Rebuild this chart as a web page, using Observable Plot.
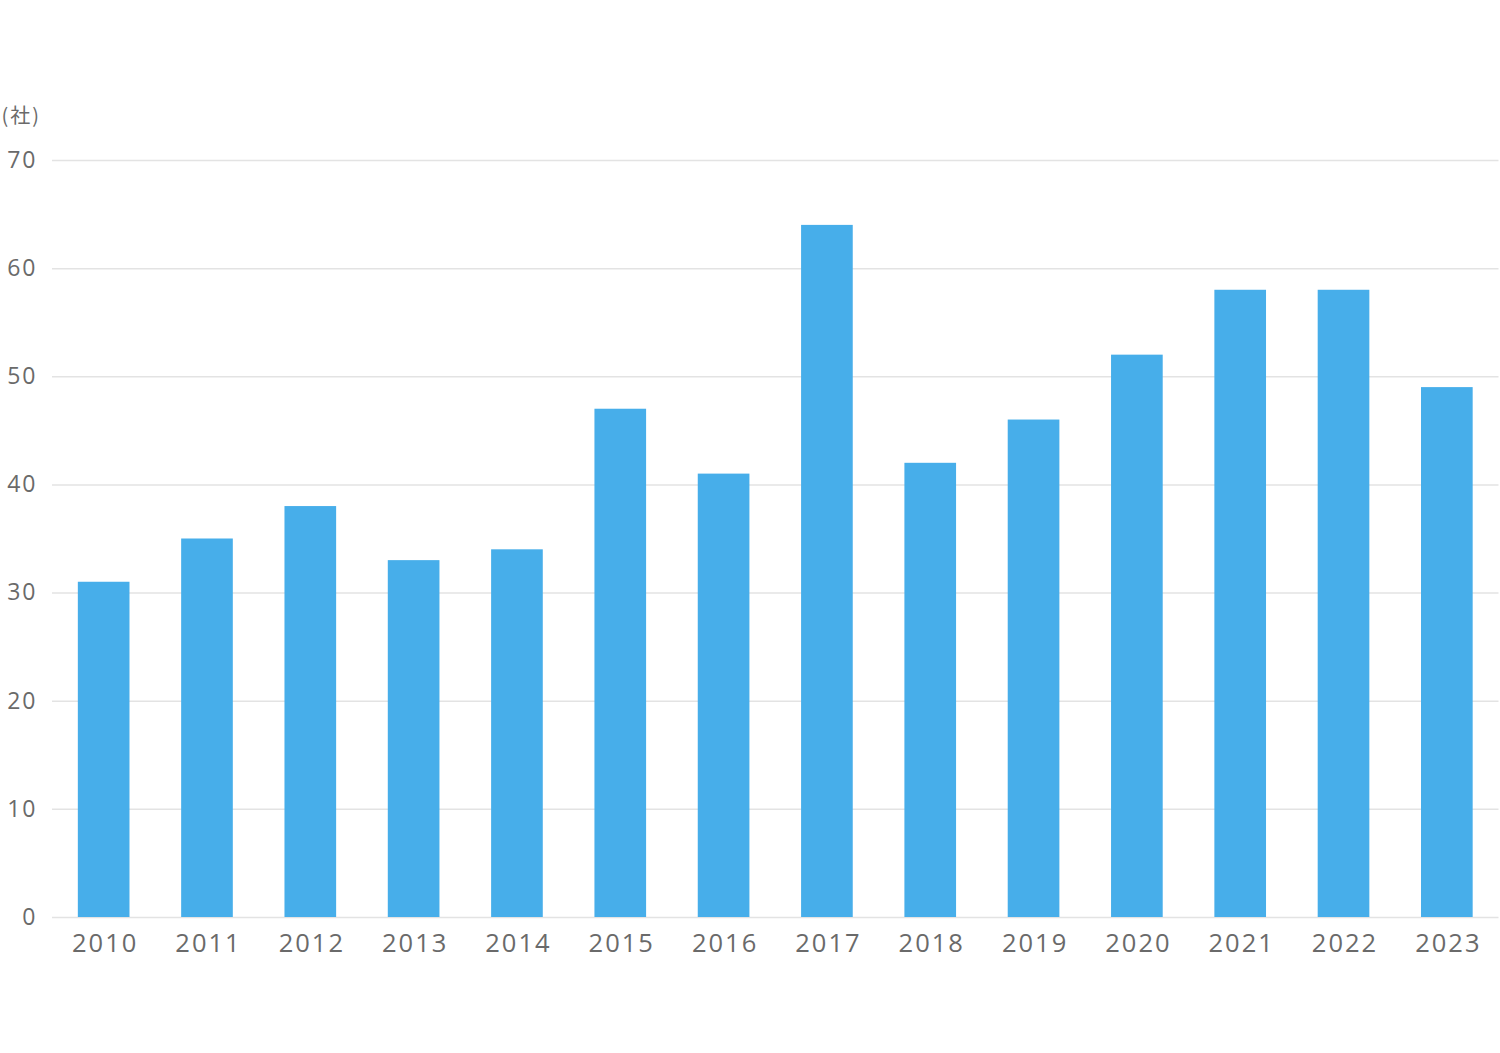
<!DOCTYPE html>
<html>
<head>
<meta charset="utf-8">
<script src="https://cdn.jsdelivr.net/npm/d3@7"></script>
<script src="https://cdn.jsdelivr.net/npm/@observablehq/plot@0.6"></script>
<style>
  html, body { margin: 0; padding: 0; background: #fff; }
  svg { display: block; }
  .ax text { letter-spacing: 2px; }
</style>
</head>
<body>
<div id="chart"></div>
<script>
const years = ["2010","2011","2012","2013","2014","2015","2016","2017","2018","2019","2020","2021","2022","2023"];
const counts = [31, 35, 38, 33, 34, 47, 41, 64, 42, 46, 52, 58, 58, 49];
const yTicks = [0, 10, 20, 30, 40, 50, 60, 70];
const unitLabel = "(社)";

const data = years.map((y, i) => ({year: y, value: counts[i]}));

const chart = Plot.plot({
  width: 1500,
  height: 1053,
  marginLeft: 52,
  marginRight: 1.5,
  marginTop: 160,
  marginBottom: 136,
  style: {fontFamily: "'Open Sans', 'Noto Sans', sans-serif", color: "#6a6a6a", background: "#fff"},
  x: {domain: years, paddingInner: 0.5, paddingOuter: 0.25, round: false},
  y: {domain: [0, 70]},
  marks: [
    Plot.gridY(yTicks, {stroke: "#e3e3e3", strokeOpacity: 1, strokeWidth: 1.5}),
    Plot.barY(data, {x: "year", y: "value", fill: "#47aeea"}),
    Plot.axisY(yTicks, {tickSize: 0, tickPadding: 15, fontSize: 23, fill: "#6a6a6a", label: null, className: "ax"}),
    Plot.axisX({tickSize: 0, tickPadding: 16, fontSize: 25.5, fill: "#6a6a6a", label: null, className: "ax", dx: 1}),
    Plot.text([unitLabel], {frameAnchor: "top-left", dx: -51, dy: -52, textAnchor: "start", fontSize: 20, fill: "#6a6a6a", fontFamily: "'Noto Sans CJK JP', sans-serif", className: "ax"})
  ]
});
document.getElementById("chart").appendChild(chart);
</script>
</body>
</html>
